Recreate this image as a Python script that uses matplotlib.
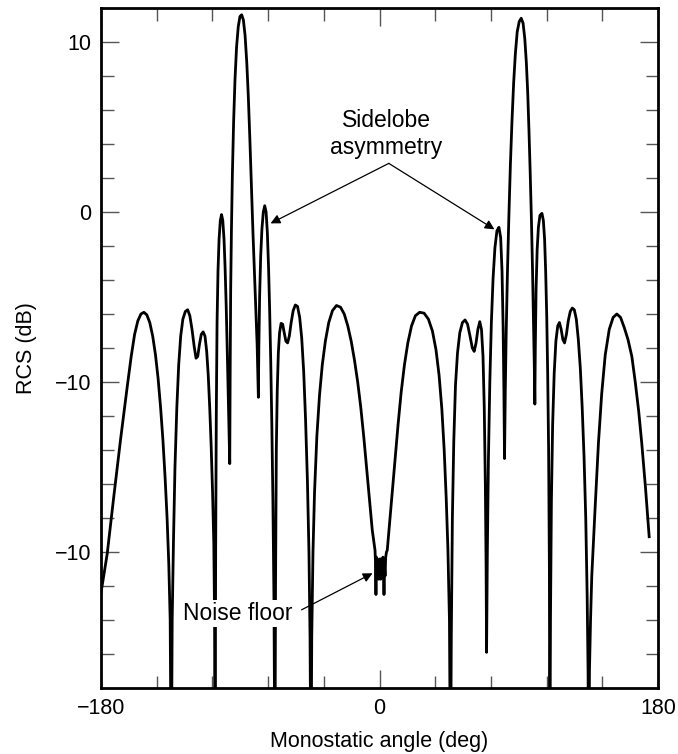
import matplotlib
matplotlib.use('Agg')
import matplotlib.pyplot as plt
from matplotlib.ticker import FixedLocator

plt.rcParams['font.family'] = ['Liberation Sans', 'DejaVu Sans']

# monostatic angle (deg) and RCS (dB), lobe by lobe
angle = [
    # outer left lobe
    -180.0, -176.0, -171.7, -167.4, -163.1, -160.5, -158.3, -156.2, -154.2, -152.3,
    -150.4, -148.5, -146.6, -144.8, -143.1, -141.5, -140.0, -138.6, -137.3, -136.2,
    -135.3, -134.6,
    # double lobe
    -134.0, -133.2, -132.2, -131.0, -129.8, -128.5, -127.1, -125.5, -124.0, -122.6,
    -121.2, -119.8, -118.6, -117.5, -116.4, -115.2, -114.0, -112.8, -111.7, -110.7,
    -109.7, -108.8, -107.9, -107.1, -106.6, -106.3,
    # left sidelobe
    -105.9, -105.5, -105.0, -104.4, -103.7, -102.9, -102.1, -101.3, -100.5, -99.8,
    -99.1, -98.4, -97.7, -97.1, -96.8,
    # left main lobe
    -96.5, -96.2, -95.7, -95.1, -94.3, -93.4, -92.4, -91.3, -90.2, -89.1,
    -88.0, -86.9, -85.8, -84.8, -83.8, -82.8, -81.8, -80.8, -79.9, -79.1,
    -78.6, -78.3,
    # left sidelobe (asymmetric one)
    -78.0, -77.5, -76.8, -76.0, -75.1, -74.2, -73.3, -72.5, -71.7, -71.0,
    -70.3, -69.6, -68.9, -68.2, -67.6,
    # double lobe
    -67.2, -66.7, -66.1, -65.4, -64.6, -63.6, -62.6, -61.6, -60.5, -59.4,
    -58.3, -57.1, -55.8, -54.4, -53.0, -51.6, -50.3, -49.0, -47.8, -46.6,
    -45.6, -44.9, -44.3,
    # central left lobe
    -43.8, -43.0, -42.0, -40.5, -38.8, -37.0, -35.0, -32.8, -30.4, -27.8,
    -25.2, -22.8, -20.5, -18.3, -16.2, -14.1, -12.1, -10.1, -8.2, -6.4,
    -4.7, -2.9,
    # noise floor
    -2.6, -2.3, -2.0, -1.7, -1.4, -1.1, -0.8, -0.5, -0.2, 0.1,
    0.4, 0.7, 1.0, 1.3, 1.6, 1.9, 2.2, 2.6, 2.9, 3.2,
    3.6, 4.0, 4.5, 5.0,
    # central right lobe
    6.6, 8.3, 10.1, 12.0, 14.0, 16.1, 18.3, 20.7, 23.2, 25.9,
    28.8, 31.6, 34.2, 36.5, 38.5, 40.3, 41.8, 43.1, 44.2, 45.2,
    45.9,
    # double lobe
    46.4, 47.1, 48.0, 49.1, 50.4, 51.9, 53.6, 55.3, 56.9, 58.5,
    60.0, 61.2, 62.4, 63.6, 64.8, 65.9, 66.9, 67.7, 68.4, 68.9,
    69.2,
    # right sidelobe (asymmetric one)
    69.7, 70.4, 71.3, 72.3, 73.4, 74.6, 75.9, 77.2, 78.3, 79.2,
    79.9, 80.4, 80.8,
    # right main lobe
    81.3, 81.9, 82.7, 83.6, 84.6, 85.6, 86.7, 87.8, 89.0, 90.3,
    91.6, 92.8, 93.9, 94.9, 95.8, 96.6, 97.4, 98.2, 98.9, 99.5,
    100.0, 100.4,
    # right sidelobe
    100.7, 101.2, 101.9, 102.7, 103.7, 105.0, 105.9, 106.7, 107.4, 108.1,
    108.7, 109.3, 109.8, 110.1,
    # double lobe
    110.5, 111.1, 111.9, 112.9, 114.0, 115.2, 116.3, 117.4, 118.5, 119.6,
    120.8, 122.0, 123.3, 124.6, 125.9, 127.2, 128.5, 129.8, 131.0, 132.2,
    133.3, 134.2, 134.8, 135.2,
    # outer right lobe
    135.7, 136.4, 137.2, 139.3, 141.5, 143.6, 145.9, 148.5, 151.0, 153.4,
    155.8, 158.2, 160.6, 163.1, 165.3, 167.5, 169.5, 171.9, 174.3,
]
rcs_db = [
    -22.4, -20.1, -16.7, -13.4, -10.3, -8.5, -7.2, -6.4, -6.0, -5.9,
    -6.05, -6.5, -7.3, -8.4, -9.8, -11.5, -13.4, -15.6, -18.0, -20.7,
    -24.0, -34.0,
    -24.0, -19.5, -15.0, -11.5, -9.0, -7.3, -6.3, -5.85, -5.75, -6.1,
    -6.9, -7.9, -8.6, -8.5, -7.8, -7.2, -7.05, -7.3, -8.2, -9.6,
    -11.6, -13.8, -16.5, -19.5, -24.0, -34.0,
    -20.0, -12.0, -6.5, -3.5, -1.6, -0.5, -0.15, -0.5, -1.6, -3.3,
    -5.5, -8.2, -11.2, -13.6, -14.8,
    -9.0, -4.6, -1.0, 2.2, 5.3, 7.8, 9.7, 10.9, 11.5, 11.6,
    11.3, 10.4, 8.8, 6.8, 4.3, 1.6, -1.2, -3.6, -5.6, -7.8,
    -9.6, -10.9,
    -8.0, -5.0, -2.6, -1.0, 0.0, 0.37, 0.0, -1.2, -3.3, -5.8,
    -8.8, -12.5, -17.0, -23.0, -34.0,
    -22.0, -14.0, -10.5, -8.3, -7.1, -6.55, -6.6, -7.1, -7.6, -7.7,
    -7.3, -6.5, -5.8, -5.47, -5.55, -6.2, -7.4, -9.4, -12.2, -15.8,
    -20.0, -25.0, -34.0,
    -25.0, -20.0, -16.5, -13.2, -10.8, -9.0, -7.6, -6.5, -5.8, -5.5,
    -5.6, -6.0, -6.7, -7.6, -8.7, -10.0, -11.5, -13.3, -15.2, -17.0,
    -18.7, -19.9,
    -20.6, -22.5, -20.3, -21.2, -20.4, -21.5, -20.5, -21.6, -20.6, -21.4,
    -20.4, -21.6, -20.5, -21.5, -20.6, -21.3, -20.3, -21.0, -22.5, -20.8,
    -21.4, -20.3, -20.0, -19.9,
    -18.2, -16.4, -14.5, -12.5, -10.6, -9.0, -7.7, -6.7, -6.1, -5.9,
    -5.95, -6.3, -7.0, -8.1, -9.6, -11.6, -14.0, -16.8, -19.8, -24.0,
    -34.0,
    -25.0, -18.0, -13.5, -10.2, -8.3, -7.1, -6.5, -6.35, -6.6, -7.3,
    -8.0, -8.2, -7.7, -6.9, -6.45, -6.9, -8.5, -11.5, -16.0, -21.0,
    -25.9,
    -20.0, -14.5, -10.0, -6.5, -3.9, -2.1, -1.1, -0.9, -1.5, -3.5,
    -6.8, -10.5, -14.5,
    -10.5, -7.0, -3.5, -0.3, 2.8, 5.3, 7.6, 9.3, 10.6, 11.2,
    11.4, 11.1, 10.2, 8.8, 7.0, 4.8, 2.3, -0.5, -3.4, -6.2,
    -8.8, -11.3,
    -8.0, -4.5, -2.2, -0.9, -0.2, -0.08, -0.5, -1.6, -3.5, -6.2,
    -9.5, -14.0, -21.0, -34.0,
    -24.0, -17.0, -12.5, -9.5, -7.6, -6.7, -6.5, -6.9, -7.5, -7.7,
    -7.2, -6.4, -5.85, -5.65, -5.75, -6.3, -7.5, -9.2, -11.5, -14.4,
    -18.0, -22.5, -27.0, -34.0,
    -27.0, -24.0, -21.4, -17.5, -13.6, -10.7, -8.4, -6.9, -6.2, -6.0,
    -6.2, -6.8, -7.5, -8.5, -10.0, -11.7, -13.6, -16.2, -19.1,
]

x_major = [-180, 0, 180]
x_major_labels = ['\u2212180', '0', '180']
x_minor = [-144, -108, -72, -36, 36, 72, 108, 144]
y_major = [10, 0, -10, -20]
y_major_labels = ['10', '0', '\u221210', '\u221210']
y_minor = [v for v in range(-26, 12, 2) if v not in y_major]

fig = plt.figure(figsize=(6.78, 7.54), dpi=100)
ax = fig.add_axes([0.149, 0.0875, 0.8215, 0.9019])

ax.plot(angle, rcs_db, color='black', lw=2.0, solid_joinstyle='round', zorder=2)

ax.set_xlim(-180, 180)
ax.set_ylim(-28, 12)

ax.xaxis.set_major_locator(FixedLocator(x_major))
ax.xaxis.set_minor_locator(FixedLocator(x_minor))
ax.set_xticklabels(x_major_labels)
ax.yaxis.set_major_locator(FixedLocator(y_major))
ax.yaxis.set_minor_locator(FixedLocator(y_minor))
ax.set_yticklabels(y_major_labels)

ax.tick_params(which='both', direction='in', top=True, right=True,
               color='#555555', width=1.0, labelsize=15.5, labelcolor='black')
ax.tick_params(which='major', length=13, pad=7)
ax.tick_params(which='minor', length=9)
for s in ax.spines.values():
    s.set_linewidth(2.0)

ax.set_xlabel('Monostatic angle (deg)', fontsize=15.5)
ax.set_ylabel('RCS (dB)', fontsize=15.5)
ax.xaxis.set_label_coords(0.5, -0.063)
ax.yaxis.set_label_coords(-0.115, 0.5)

arrow = dict(arrowstyle='-|>', color='black', lw=0.9, mutation_scale=14,
             shrinkA=0, shrinkB=0)
ax.text(4.5, 4.6, 'Sidelobe\nasymmetry', ha='center', va='center',
        fontsize=16.5, linespacing=1.25, zorder=3)
ax.annotate('', xy=(-70.4, -0.67), xytext=(6.0, 2.86), arrowprops=arrow, zorder=3)
ax.annotate('', xy=(74.3, -1.02), xytext=(6.0, 2.86), arrowprops=arrow, zorder=3)

ax.annotate('', xy=(-4.5, -21.25), xytext=(-50.4, -23.4), arrowprops=arrow, zorder=3)
ax.text(-91.8, -23.6, 'Noise floor', ha='center', va='center', fontsize=16.5,
        zorder=4, bbox=dict(facecolor='white', edgecolor='none', pad=1.5))

fig.savefig('out.png', dpi=100)
